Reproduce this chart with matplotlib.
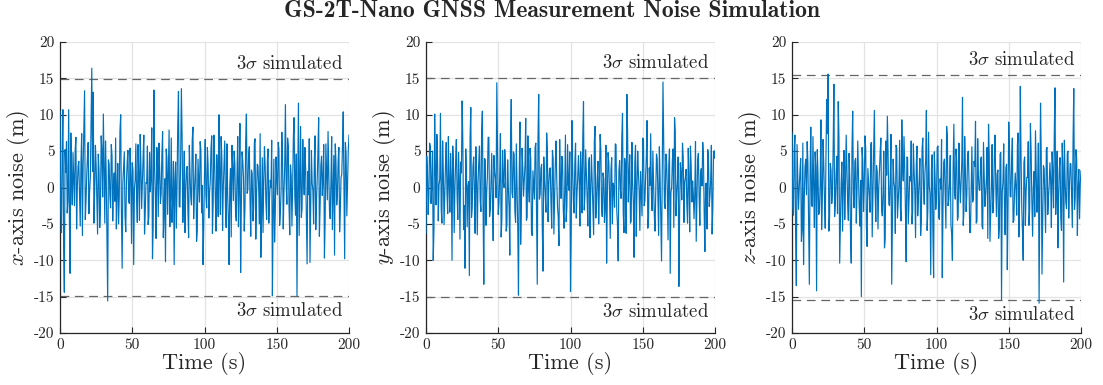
import numpy as np
import matplotlib
matplotlib.use("Agg")
import matplotlib.pyplot as plt

plt.rcParams['font.family'] = 'serif'
plt.rcParams['font.serif'] = ['cmr10']
plt.rcParams['mathtext.fontset'] = 'cm'
plt.rcParams['axes.unicode_minus'] = False
plt.rcParams['axes.formatter.use_mathtext'] = False

# samples on whole seconds (t = 0, 1, ..., 200)
x_noise = [
    10.5, -6.2, 10.7, -14.4, 2.1, -3.5, 10.7, -11.8, 1.3, 4.8,
    -2.5, 6.9, 0.1, 3.6, -5.3, 7.4, 2.8, 13.3, -1.9, 4.2,
    -3.6, 1.4, 16.4, 13.1, -0.7, 3.1, -6.4, 2.3, -2.6, 5.0,
    10.1, -4.9, 1.5, -15.6, 3.2, -2.8, 4.4, 0.2, -1.9, -5.7,
    3.3, -1.4, 10.0, -11.1, 2.7, -3.9, 0.8, 5.1, -2.2, 1.5,
    3.4, -10.6, 1.0, -1.3, 5.9, -4.5, 3.1, 0.8, 7.2, -3.4,
    0.6, -5.1, 4.8, 1.4, -9.8, 13.4, -1.1, 5.5, -4.0, 2.4,
    -0.9, 7.7, -3.2, -10.2, 4.0, 2.1, -5.4, 6.8, -1.6, -10.6,
    3.5, 0.2, 13.2, -2.7, 13.6, -4.8, 5.0, -0.3, 2.9, -6.9,
    1.7, -2.4, 8.3, -0.5, 4.6, -5.9, 0.8, 6.3, -3.5, -10.6,
    2.0, -1.0, 5.5, -4.2, 0.9, 7.1, -2.1, 3.8, -6.0, 1.3,
    10.0, -3.7, 4.2, 0.0, 6.4, -5.5, -0.8, -10.6, 2.6, 5.8,
    -1.8, 3.3, -4.6, 7.0, 0.4, -11.7, 4.9, 1.4, -2.9, 10.1,
    -0.3, 5.6, -6.7, 1.9, -3.0, 6.7, -1.2, 3.0, -5.0, -9.6,
    4.1, 0.9, 2.8, -4.4, 5.3, -1.5, 0.0, -14.9, 3.9, -3.3,
    1.1, 6.2, -5.2, -0.4, 4.4, -0.6, 11.4, -2.3, 5.7, -6.5,
    1.6, 0.1, 9.6, -3.8, -14.9, 11.6, 0.7, -4.1, 6.6, -1.0,
    2.5, -10.5, -1.0, -10.3, 5.1, -0.4, 3.7, -5.8, 1.2, 9.6,
    -2.6, 4.3, 1.1, -9.7, 6.0, -1.7, 2.2, -4.3, 7.0, -0.6,
    -9.3, 3.4, -0.8, 5.5, -3.1, 1.8, 10.4, -9.8, 4.6, 0.5,
    7.2,
]
# samples on half seconds (t = 0.5, 1.5, ..., 199.5)
x_noise_mid = [
    -3.1, 4.6, -7.9, 5.2, 6.3, -1.8, -4.2, 7.5, -2.4, 0.9,
    5.1, -5.7, 2.9, -0.8, 3.3, -6.6, 8.1, -4.4, 1.7, 6.2,
    -0.5, 9.1, 2.2, -4.9, 5.8, -2.0, 4.6, -5.5, 7.1, -1.3,
    2.7, 6.4, -7.3, 3.8, -1.1, 5.9, -4.6, 2.0, 6.8, -0.4,
    -5.0, 7.8, -3.3, 0.6, 4.9, -6.1, 3.5, -1.9, 5.4, -7.7,
    2.3, -0.2, 6.0, -4.8, 1.6, 7.3, -2.9, 4.1, -6.4, 0.7,
    5.7, -3.9, -0.6, 8.2, -5.2, 2.6, -7.0, 3.0, 6.1, -2.2,
    4.4, -6.9, 1.2, 5.3, -3.7, 7.9, -1.5, -4.8, 3.6, 0.9,
    -5.6, 8.7, -2.6, 4.0, 6.9, -0.9, -6.2, 2.5, -3.0, 5.8,
    -1.4, 6.5, -4.3, 1.8, -7.4, 3.9, -2.0, 5.1, 0.3, -5.1,
    6.6, -2.8, 3.1, -0.7, 5.4, -6.3, 7.2, -1.6, 4.5, -4.0,
    1.5, 7.0, -5.9, 3.4, -2.5, 6.0, -4.1, 0.4, -6.8, 2.8,
    5.0, -3.5, 1.9, -5.4, 8.8, -2.3, 3.6, -6.0, 6.3, -0.8,
    4.3, -1.7, 2.4, -4.6, 6.1, -7.1, 3.2, -0.1, 7.4, -3.8,
    -6.2, 5.6, -2.1, 3.7, -4.9, 1.0, 6.5, -3.6, -7.5, 4.2,
    -1.0, 5.3, -3.4, 7.6, -5.7, 2.9, 0.5, 6.8, -2.7, 3.1,
    -5.3, 6.9, -1.2, 4.6, -0.3, -6.6, 8.4, -2.9, 1.8, 5.5,
    -4.2, 2.2, 6.7, -3.1, 0.6, -5.0, 7.1, -1.9, 4.8, -6.7,
    3.0, -1.1, 5.9, -4.5, 2.1, 7.7, -3.2, 0.8, -5.8, 4.4,
    6.0, -2.4, 3.8, -6.1, 1.4, 5.7, -0.5, 6.2, -3.9, 5.1,
]

y_noise = [
    -6.3, 2.2, -0.8, 5.6, 0.5, -10.0, 10.1, -2.4, 3.9, 0.3,
    10.2, -4.9, 1.8, -1.1, 6.2, -3.6, 0.4, 4.7, -10.0, 2.9,
    -0.2, 6.6, -4.4, 1.3, 3.5, 11.9, -5.8, -11.1, 2.0, 0.2,
    -12.1, 11.0, -2.7, 4.2, -6.3, 1.1, 0.6, 5.7, -3.3, 10.5,
    -13.3, 3.8, -0.6, 6.9, -4.0, 0.7, -2.1, 4.4, 1.2, 14.4,
    -3.7, 1.5, -6.8, 5.1, 0.0, 3.0, -5.2, -0.1, -9.3, 12.1,
    -1.4, 4.6, -4.8, 0.5, -14.8, 9.0, -2.9, 2.6, 0.8, 9.5,
    -4.1, 0.0, 5.4, -6.0, 2.3, -1.6, 6.1, -13.3, 12.8, -0.9,
    3.2, -11.5, 1.0, -3.4, 5.0, 0.5, 2.7, -5.6, 4.0, -1.3,
    6.4, -2.6, -8.0, 0.8, 4.3, -3.0, -0.4, -4.7, 5.9, -0.4,
    -14.3, 9.2, -1.9, 3.3, -4.2, 1.4, 1.0, 4.9, -3.5, 11.8,
    -1.0, 2.1, -5.3, 4.1, -0.1, 0.9, -6.5, 8.4, -2.3, 3.6,
    0.1, 5.2, -4.0, 1.2, -2.8, -10.4, 4.8, -0.7, 2.4, -5.0,
    0.1, 6.0, -3.1, -10.1, 3.7, -1.5, 10.2, -6.2, 2.8, 12.8,
    -2.0, 4.5, -4.6, 0.6, -9.6, 5.8, -0.2, 2.0, -5.9, -1.0,
    6.8, -2.5, 1.6, 9.2, -4.3, 0.3, -1.1, 5.0, -3.8, -0.3,
    4.0, -6.6, 1.3, -10.1, 14.5, -2.2, 4.6, -0.5, 2.9, -11.8,
    0.0, 5.3, 9.6, -3.9, 1.0, -13.6, 3.4, -1.7, 4.2, 0.7,
    2.5, -4.9, 0.7, 5.7, -2.0, -0.9, -0.9, -7.4, 3.8, -1.2,
    1.9, 0.2, 4.4, -8.8, 0.6, 5.2, -2.6, 1.0, -6.4, 5.0,
    5.1,
]
y_noise_mid = [
    4.3, -3.7, 6.1, -2.2, 5.0, -5.8, 2.4, 7.3, -4.6, 1.1,
    -2.9, 6.4, -5.1, 3.2, -0.6, 7.0, -3.4, 1.5, 5.7, -6.2,
    3.6, -1.0, 4.8, -7.1, 2.0, 6.2, -2.5, 5.3, -5.4, 0.8,
    6.7, -4.1, 2.9, -0.3, 5.6, -6.5, 3.4, -1.8, 7.6, -2.9,
    4.0, -5.2, 1.6, 6.9, -3.0, 4.7, -7.3, 2.1, -1.4, 5.9,
    -2.1, 7.4, -4.4, 0.9, 5.2, -6.0, 3.8, -2.8, 6.3, -0.7,
    4.9, -3.3, 6.0, -5.5, 1.3, -7.8, 5.4, -1.2, 3.1, -4.5,
    7.1, -2.0, 3.9, -6.6, 0.2, 5.5, -3.8, 6.8, -1.6, 2.6,
    -5.9, 4.2, -0.9, 7.5, -4.7, 2.5, -2.2, 5.1, -6.4, 3.3,
    1.0, -4.0, 6.6, -1.5, 3.7, -5.6, 7.2, -2.6, 0.4, 4.9,
    -6.1, 2.8, -3.5, 6.1, -0.8, 4.4, -5.3, 1.9, 7.0, -3.1,
    5.2, -1.3, 3.0, -6.9, 4.5, -2.4, 6.4, -4.2, 1.2, -5.0,
    7.3, -3.0, 2.0, -4.8, 5.8, -1.1, 3.5, -7.0, 4.1, 0.6,
    -2.7, 5.9, -5.0, 2.3, -0.2, 6.9, -3.6, 4.0, -6.3, 7.8,
    1.7, -4.9, 6.2, -2.0, 3.4, -6.7, 5.0, -0.5, 2.2, -3.9,
    6.5, -1.8, 4.3, -5.6, 2.7, 7.4, -3.2, 0.3, -6.0, 4.6,
    -1.4, 5.6, -4.1, 1.8, 6.7, -2.9, 3.6, -7.2, 5.3, -0.7,
    3.8, -5.5, 7.7, -1.0, 4.2, -3.6, 2.0, 6.1, -4.8, 1.4,
    -2.3, 5.4, -6.1, 3.0, 0.9, -4.3, 6.3, -1.7, 4.7, -5.2,
    2.6, 6.2, -3.4, 0.5, -5.7, 3.9, -1.2, 5.8, -2.8, 4.0,
]

z_noise = [
    7.5, -3.8, 7.2, -13.5, 1.4, -0.1, 4.0, -5.9, -10.6, 2.8,
    -1.0, 3.5, -13.3, 8.3, -2.6, 0.1, 4.9, -14.2, 1.7, -3.2,
    9.3, -1.4, 3.0, -5.6, 12.1, 15.6, -4.1, 2.4, -0.7, 14.2,
    -2.1, 4.3, 11.8, -10.4, 0.5, -6.0, 5.1, 0.4, 2.9, -4.5,
    1.2, -10.4, 10.5, -2.8, 4.0, -0.4, 1.9, -5.3, -15.0, 3.6,
    0.1, 5.4, -8.1, 0.7, -3.4, 6.2, -1.1, 10.6, -4.7, 2.1,
    -0.2, 4.8, -3.0, -0.7, -8.3, 6.4, 9.8, -2.3, 1.3, -13.3,
    3.9, 0.0, 5.8, -4.2, 0.4, -2.7, 9.3, 0.9, 2.6, -10.2,
    4.1, -1.8, 0.9, -5.0, 6.0, -0.5, 3.1, -3.9, 1.0, -6.6,
    5.2, 0.3, 2.0, 10.6, -3.3, 0.2, -12.0, 4.5, -12.4, 1.6,
    -1.3, 5.7, -4.4, -0.2, -12.4, 3.4, -0.8, 8.4, -2.5, 0.6,
    -5.1, -10.0, 8.7, -1.6, 3.7, -4.0, 1.1, 0.8, 12.4, -3.1,
    2.3, -0.9, 5.0, -6.2, 0.0, -2.0, 3.6, 9.1, -4.6, 1.5,
    -0.4, 4.2, -5.7, 2.0, -1.0, 5.5, 8.7, -7.4, 0.3, -3.5,
    3.8, 0.5, 1.9, -7.0, 4.6, -15.5, 0.8, -2.4, 2.7, -11.3,
    9.0, -1.2, 3.9, -4.8, -0.4, -0.1, 5.9, -6.8, 13.9, -2.6,
    -10.0, 4.2, -0.6, 1.4, -5.2, 8.8, -1.9, -0.1, -4.0, 2.5,
    -0.3, -15.9, 11.6, -11.9, 3.0, -1.5, 5.3, -3.7, 0.5, 1.0,
    4.9, -2.8, 13.7, -0.2, -8.3, 2.6, -4.2, 6.1, -13.0, 1.0,
    -2.9, 5.0, 0.2, 3.2, -5.5, 13.6, -1.4, 4.0, 0.0, -4.3,
    2.3,
]
z_noise_mid = [
    -2.5, 4.8, -6.3, 5.9, -3.0, 2.2, -7.4, 6.1, -1.5, 3.9,
    6.3, -4.8, 1.6, -2.4, 7.0, -5.5, 2.8, 5.2, -3.7, 0.4,
    -5.8, 6.6, -1.9, 4.1, 7.4, -6.0, 3.3, -2.2, 5.8, -4.0,
    1.8, -3.6, 6.9, -5.1, 3.5, 0.6, -4.4, 7.2, -2.0, 4.7,
    -6.6, 5.1, -0.8, 3.6, -4.9, 6.4, -2.7, 1.0, 5.5, -3.3,
    7.1, -5.4, 2.6, -1.2, 6.0, -6.8, 4.3, -0.4, 3.0, -5.7,
    2.1, 6.8, -3.9, 5.0, -7.1, 1.7, 4.6, -2.5, 7.3, -4.4,
    0.8, -6.3, 5.4, -2.0, 6.5, -4.6, 2.9, 7.0, -3.1, 4.2,
    -5.0, 1.5, 6.4, -3.4, 2.3, -6.9, 5.7, -1.1, 4.0, -4.7,
    6.8, -2.3, 3.7, -5.9, 7.6, -0.9, 2.5, -6.1, 4.9, -3.0,
    5.5, -4.1, 1.2, 6.6, -2.6, 3.9, -5.6, 7.1, -1.7, 4.4,
    -6.4, 2.7, -0.7, 5.3, -4.5, 6.1, -2.1, 3.4, -5.2, 7.0,
    -3.3, 4.5, 0.8, -6.2, 5.6, -1.6, 2.9, -4.9, 6.7, -0.3,
    3.7, -5.3, 6.2, -2.6, 1.1, -7.0, 4.4, -3.5, 5.9, -1.9,
    7.2, -4.0, 2.4, -5.5, 4.8, -0.6, 6.0, -6.5, 3.2, -2.4,
    5.1, -1.3, 6.8, -4.6, 2.0, -3.8, 7.5, -2.0, 4.3, -6.0,
    3.5, -5.2, 1.4, 6.3, -2.9, 4.7, -6.7, 2.2, 7.8, -3.4,
    6.1, -0.5, 4.0, -4.3, 2.6, -6.2, 5.5, -1.3, 3.4, -5.5,
    1.9, 7.2, -3.7, 5.0, -0.9, 4.1, -5.9, 2.7, 6.5, -2.1,
    4.7, -4.2, 3.3, -1.5, 6.4, -3.0, 5.2, -6.6, 2.5, 0.6,
]

three_sigma = [14.9, 15.0, 15.4]
axis_names = ['x', 'y', 'z']
whole = [x_noise, y_noise, z_noise]
half = [x_noise_mid, y_noise_mid, z_noise_mid]

fig = plt.figure(figsize=(11.03, 3.85), dpi=100)
lefts = [60 / 1103, 426 / 1103, 792 / 1103]
w = 289 / 1103
b = 52 / 385
h = 291 / 385

for i in range(3):
    # merge the whole-second and half-second samples in time order
    t = []
    v = []
    for k in range(200):
        t += [k, k + 0.5]
        v += [whole[i][k], half[i][k]]
    t.append(200)
    v.append(whole[i][200])

    ax = fig.add_axes([lefts[i], b, w, h])
    ax.plot(t, v, color='#0072BD', lw=0.85, zorder=3)
    s = three_sigma[i]
    ax.axhline(s, color='0.4', lw=0.9, dashes=(7, 4.5), zorder=2)
    ax.axhline(-s, color='0.4', lw=0.9, dashes=(7, 4.5), zorder=2)
    ax.text(196, s + 0.9, r'3$\sigma$ simulated', ha='right', va='bottom',
            fontsize=13.5, color='#262626')
    ax.text(196, -s - 0.9, r'3$\sigma$ simulated', ha='right', va='top',
            fontsize=13.5, color='#262626')
    ax.set_xlim(0, 200)
    ax.set_ylim(-20, 20)
    ax.set_xticks([0, 50, 100, 150, 200])
    ax.set_yticks([-20, -15, -10, -5, 0, 5, 10, 15, 20])
    ax.grid(True, color='#e3e3e3', lw=0.9)
    ax.set_axisbelow(True)
    for sp in ['top', 'right']:
        ax.spines[sp].set_visible(False)
    for sp in ['left', 'bottom']:
        ax.spines[sp].set_color('#262626')
        ax.spines[sp].set_linewidth(0.9)
    ax.tick_params(direction='in', length=4, width=0.8, colors='#262626',
                   labelsize=11, pad=4)
    ax.set_xlabel('Time (s)', fontsize=16, color='#262626', labelpad=0)
    ax.set_ylabel('$' + axis_names[i] + '$-axis noise (m)', fontsize=16,
                  color='#262626', labelpad=1)

fig.suptitle('GS-2T-Nano GNSS Measurement Noise Simulation', fontsize=17,
             fontfamily='cmb10', y=1.0, color='#262626')

fig.savefig('out.png', dpi=100)
